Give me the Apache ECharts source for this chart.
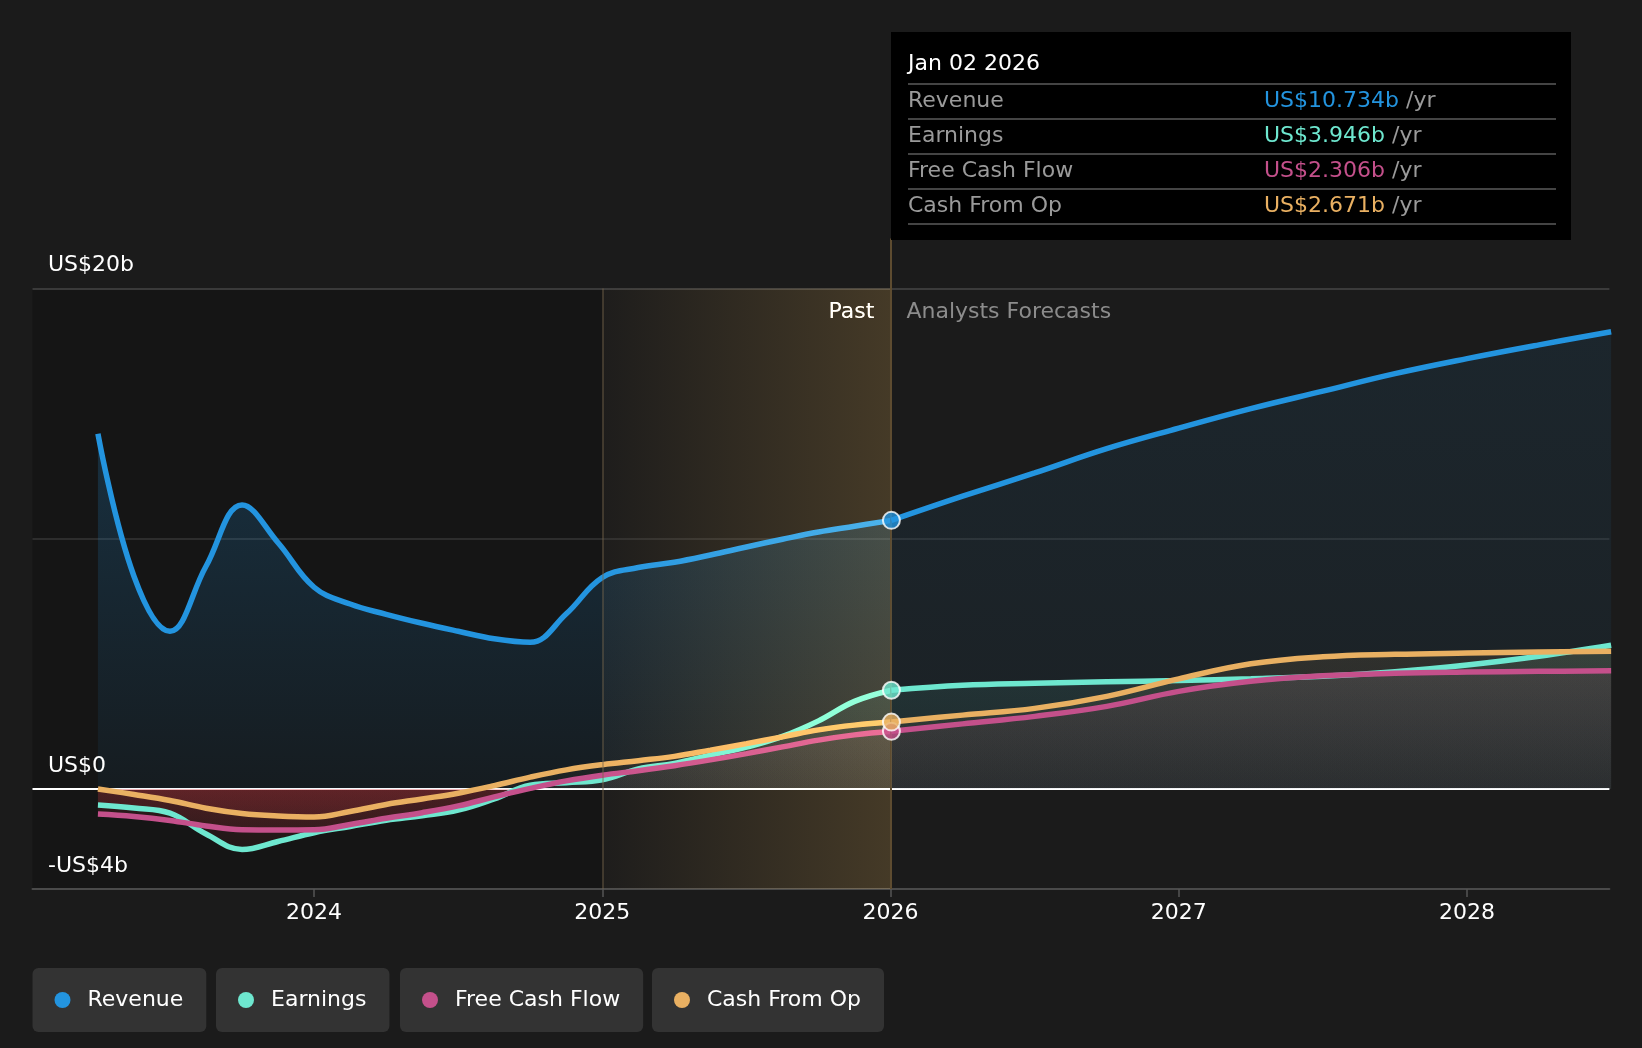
<!DOCTYPE html>
<html>
<head>
<meta charset="utf-8">
<title>Revenue, Earnings, Free Cash Flow, Cash From Op</title>
<style>
  html, body { margin: 0; padding: 0; background: #1b1b1b; }
  #main { width: 1642px; height: 1048px; }
</style>
</head>
<body>
<div id="main"></div>
<script src="https://cdn.jsdelivr.net/npm/echarts@6/dist/echarts.min.js"></script>
<script>
// values in US$ billions, x = decimal year
var pastYears    = [2023.25, 2023.375, 2023.5, 2023.625, 2023.75, 2023.875, 2024.0, 2024.125, 2024.25, 2024.375, 2024.5, 2024.625,
                    2024.75, 2024.875, 2025.0, 2025.125, 2025.25, 2025.375, 2025.5, 2025.625, 2025.75, 2025.875, 2026.003];
var revenuePast  = [14.2, 8.5, 6.3, 8.9, 11.35, 9.84, 8.06, 7.39, 6.98, 6.62, 6.3, 6.0,
                    5.86, 7.0, 8.45, 8.85, 9.06, 9.35, 9.67, 9.98, 10.27, 10.5, 10.734];
var earningsPast = [-0.64, -0.76, -0.97, -1.8, -2.42, -2.1, -1.75, -1.5, -1.25, -1.07, -0.85, -0.4,
                    0.15, 0.25, 0.36, 0.8, 1.02, 1.35, 1.67, 2.1, 2.72, 3.5, 3.946];
var fcfPast      = [-1.0, -1.1, -1.26, -1.48, -1.63, -1.64, -1.63, -1.42, -1.17, -0.95, -0.68, -0.32,
                    0.02, 0.32, 0.55, 0.73, 0.93, 1.16, 1.41, 1.68, 1.95, 2.16, 2.306];
var cfoPast      = [0.0, -0.22, -0.46, -0.77, -0.98, -1.08, -1.12, -0.9, -0.62, -0.4, -0.17, 0.13,
                    0.47, 0.76, 0.97, 1.13, 1.3, 1.55, 1.81, 2.08, 2.36, 2.55, 2.671];

var forecastYears    = [2026.003, 2026.25, 2026.5, 2026.75, 2027.0, 2027.25, 2027.5, 2027.75, 2028.0, 2028.25, 2028.5];
var revenueForecast  = [10.734, 11.7, 12.63, 13.6, 14.42, 15.2, 15.9, 16.6, 17.2, 17.75, 18.27];
var earningsForecast = [3.946, 4.14, 4.22, 4.28, 4.33, 4.4, 4.5, 4.68, 4.95, 5.3, 5.74];
var fcfForecast      = [2.306, 2.6, 2.9, 3.3, 3.9, 4.3, 4.52, 4.62, 4.67, 4.7, 4.72];
var cfoForecast      = [2.671, 2.95, 3.22, 3.7, 4.4, 5.0, 5.28, 5.38, 5.43, 5.47, 5.5];

var names  = ['Revenue', 'Earnings', 'Free Cash Flow', 'Cash From Op'];
var colors = ['#2394df', '#6ee7cf', '#c4508b', '#e9b062'];
var yearTicks = [2024, 2025, 2026, 2027, 2028];
var yLabelTicks = [-4, 0, 20];
var forecastStart = 2025;
var tipDate = 'Jan 02 2026';

var X_MIN = 2023.023, X_MAX = 2028.494, Y_MIN = -4, Y_MAX = 22;
var GRID = { left: 32.5, right: 32.6, top: 238.5, bottom: 159 };
var PAST_END = pastYears[pastYears.length - 1];
var FONT = 22;

var chart = echarts.init(document.getElementById('main'));

function pairs(xs, ys) {
    return xs.map(function (x, i) { return [x, ys[i]]; });
}
function rgba(hex, a) {
    var n = parseInt(hex.slice(1), 16);
    return 'rgba(' + (n >> 16) + ',' + ((n >> 8) & 255) + ',' + (n & 255) + ',' + a + ')';
}
function yPx(v) {
    var h = chart.getHeight() - GRID.top - GRID.bottom;
    return GRID.top + (Y_MAX - v) / (Y_MAX - Y_MIN) * h;
}
// tinted above zero, red below zero
function smallAreaFill(hex) {
    var zero = 6 / 10;
    return {
        type: 'linear', x: 0, y: yPx(6), x2: 0, y2: yPx(-4), global: true,
        colorStops: [
            { offset: 0, color: rgba(hex, 0.15) },
            { offset: zero - 0.001, color: rgba(hex, 0.05) },
            { offset: zero, color: 'rgba(225,60,70,0.2)' },
            { offset: 0.9, color: 'rgba(225,60,70,0.06)' },
            { offset: 1, color: 'rgba(225,60,70,0.05)' }
        ]
    };
}
function vGrad(hex, a0, a1) {
    return { type: 'linear', x: 0, y: 0, x2: 0, y2: 1,
        colorStops: [{ offset: 0, color: rgba(hex, a0) }, { offset: 1, color: rgba(hex, a1) }] };
}
function fmtY(v) {
    if (v === 0) return 'US$0';
    return (v < 0 ? '-US$' + (-v) : 'US$' + v) + 'b';
}

var pastData = [revenuePast, earningsPast, fcfPast, cfoPast];
var forecastData = [revenueForecast, earningsForecast, fcfForecast, cfoForecast];
var tipValues = forecastData.map(function (d) { return d[0]; });

function tipHtml() {
    var rows = names.map(function (n, i) {
        return '<div style="display:flex;border-top:2px solid #444;height:33px;line-height:29px;">' +
            '<span style="width:356px;flex-shrink:0;color:#9a9a9a;">' + n + '</span>' +
            '<span style="color:' + colors[i] + ';">US$' + tipValues[i].toFixed(3) + 'b</span>' +
            '<span style="color:#9a9a9a;">&nbsp;/yr</span></div>';
    }).join('');
    return '<div style="width:648px;padding:18px 15px 15px 17px;font-family:\'DejaVu Sans\';font-size:' + FONT + 'px;">' +
        '<div style="color:#fff;line-height:26px;margin-bottom:7px;">' + tipDate + '</div>' +
        rows + '<div style="border-top:2px solid #444;"></div></div>';
}

var series = [];
// background bands, grid lines, zero line and region labels
series.push({
    name: 'bg', type: 'line', data: [], silent: true,
    markArea: {
        silent: true, z: 0,
        data: [
            [{ xAxis: X_MIN, yAxis: 20, itemStyle: { color: '#151515' } }, { xAxis: forecastStart, yAxis: -4 }],
            [{ xAxis: forecastStart, yAxis: 20, itemStyle: { color: 'rgba(0,0,0,0)' },
               label: { show: true, formatter: 'Past', position: 'insideTopRight', distance: 0,
                        padding: [11, 17, 0, 0], color: '#fff', fontSize: FONT, lineHeight: 26 } },
             { xAxis: PAST_END, yAxis: -4 }],
            [{ xAxis: PAST_END, yAxis: 20, itemStyle: { color: 'rgba(0,0,0,0)' },
               label: { show: true, formatter: 'Analysts Forecasts', position: 'insideTopLeft', distance: 0,
                        padding: [11, 0, 0, 15], color: '#8c8c8c', fontSize: FONT, lineHeight: 26 } },
             { xAxis: X_MAX, yAxis: -4 }]
        ]
    },
    markLine: {
        silent: true, z: 1, symbol: 'none', label: { show: false }, animation: false,
        data: [
            { yAxis: 20, lineStyle: { color: '#474747', width: 1.5, type: 'solid' } },
            { yAxis: 10, lineStyle: { color: '#363636', width: 1.5, type: 'solid' } },
            { yAxis: 0, lineStyle: { color: '#ffffff', width: 2, type: 'solid' } }
        ]
    }
});
// past / forecast dividers
series.push({
    name: 'dividers', type: 'line', data: [], silent: true,
    markLine: {
        silent: true, z: 2.6, symbol: 'none', label: { show: false }, animation: false,
        data: [
            [{ coord: [forecastStart, 20], lineStyle: { color: 'rgba(120,104,76,0.55)', width: 1.5, type: 'solid' } },
             { coord: [forecastStart, -4] }],
            { xAxis: PAST_END, lineStyle: { color: '#5e4c30', width: 2, type: 'solid' } }
        ]
    }
});
names.forEach(function (n, i) {
    var isRev = i === 0;
    series.push({
        name: n, type: 'line', z: 2, smooth: 0.4, symbol: 'none',
        data: pairs(pastYears, pastData[i]),
        itemStyle: { color: colors[i] },
        lineStyle: { color: colors[i], width: 5.5 },
        areaStyle: { color: isRev ? vGrad(colors[i], 0.3, 0.08) : smallAreaFill(colors[i]) },
        emphasis: { disabled: true }
    });
});
names.forEach(function (n, i) {
    var isRev = i === 0;
    series.push({
        name: n, type: 'line', z: 3, smooth: 0.4, symbol: 'none',
        data: pairs(forecastYears, forecastData[i]),
        itemStyle: { color: colors[i] },
        lineStyle: { color: colors[i], width: 5.5 },
        areaStyle: { color: isRev ? vGrad(colors[i], 0.13, 0.07) : smallAreaFill(colors[i]) },
        emphasis: { disabled: true }
    });
});
var markerIndex = series.length;
series.push({
    name: 'markers', type: 'scatter', z: 4, symbolSize: 17,
    data: forecastData.map(function (d, i) {
        return { value: [forecastYears[0], d[0]],
                 itemStyle: { color: colors[i], borderColor: '#fff', borderWidth: 2 } };
    }),
    emphasis: { disabled: true }
});

var legendLeft = [32.5, 216, 400, 652];

var option = {
    backgroundColor: '#1b1b1b',
    animation: false,
    textStyle: { fontFamily: 'DejaVu Sans' },
    grid: { left: GRID.left, right: GRID.right, top: GRID.top, bottom: GRID.bottom, containLabel: false },
    tooltip: {
        trigger: 'item', triggerOn: 'none', alwaysShowContent: true,
        position: [891, 32], backgroundColor: '#000', borderWidth: 0, padding: 0,
        transitionDuration: 0, extraCssText: 'border-radius:0;box-shadow:none;',
        formatter: tipHtml
    },
    legend: names.map(function (n, i) {
        return {
            data: [n], left: legendLeft[i], top: 968, icon: 'circle',
            itemWidth: 16, itemHeight: 16, padding: [20, 23, 20, 22],
            backgroundColor: '#333', borderRadius: 6,
            textStyle: { color: '#fff', fontSize: FONT, lineHeight: 24, padding: [0, 0, 0, 12] }
        };
    }),
    xAxis: {
        type: 'value', min: X_MIN, max: X_MAX,
        splitLine: { show: false },
        axisLine: { show: true, onZero: false, lineStyle: { color: '#4a4a4a', width: 2 } },
        axisTick: { show: true, customValues: yearTicks, length: 8, lineStyle: { color: '#555', width: 1.5 } },
        axisLabel: { customValues: yearTicks, color: '#fff', fontSize: FONT, margin: 13,
                     formatter: function (v) { return String(v); } }
    },
    yAxis: {
        type: 'value', min: Y_MIN, max: Y_MAX, z: 3,
        splitLine: { show: false }, axisLine: { show: false }, axisTick: { show: false },
        axisLabel: { customValues: yLabelTicks, inside: true, margin: 15.5, color: '#fff',
                     fontSize: FONT, lineHeight: 26, verticalAlign: 'bottom', padding: [0, 0, 10, 0],
                     formatter: fmtY }
    },
    series: series
};
chart.setOption(option);

// warm highlight over the last past year, added on top of what is drawn below
var p0 = chart.convertToPixel({ gridIndex: 0 }, [forecastStart, 20]);
var p1 = chart.convertToPixel({ gridIndex: 0 }, [PAST_END, -4]);
chart.setOption({
    graphic: [{
        type: 'rect', z: 2.5, silent: true,
        shape: { x: p0[0], y: p0[1], width: p1[0] - p0[0], height: p1[1] - p0[1] },
        style: {
            fill: new echarts.graphic.LinearGradient(0, 0, 1, 0, [
                { offset: 0, color: 'rgb(3,2,1)' },
                { offset: 1, color: 'rgb(42,31,12)' }
            ]),
            blend: 'lighter'
        }
    }]
});

chart.dispatchAction({ type: 'showTip', seriesIndex: markerIndex, dataIndex: 0 });
</script>
</body>
</html>
